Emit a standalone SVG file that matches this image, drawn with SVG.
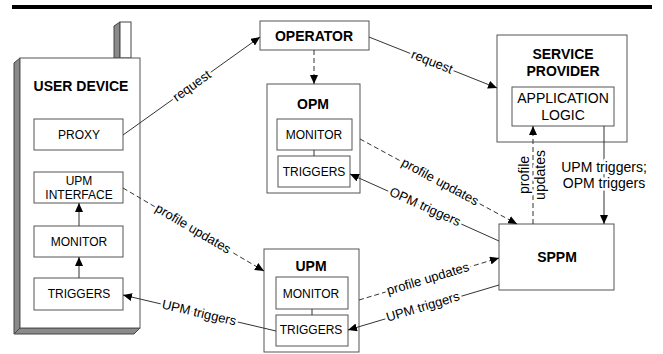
<svg xmlns="http://www.w3.org/2000/svg" width="663" height="354" viewBox="0 0 663 354">
<style>
.box{fill:#fff;stroke:#555;stroke-width:1}
.t{font-family:"Liberation Sans",Arial,sans-serif;fill:#000;text-anchor:middle}
.b{font-weight:bold;font-size:14px}
.s{font-size:12px}
.m{font-size:14px}
.ln{stroke:#333;stroke-width:1;fill:none}
.dash{stroke-dasharray:5,3}
.lbl{font-size:13px;paint-order:stroke;stroke:#fff;stroke-width:5;stroke-linejoin:round}
.lbl14{font-size:14px;paint-order:stroke;stroke:#fff;stroke-width:5;stroke-linejoin:round}
.shade{fill:#8a8a8a;stroke:#444;stroke-width:1}
</style>
<defs>
<marker id="ah" markerWidth="9" markerHeight="8" refX="9" refY="4" orient="auto" markerUnits="userSpaceOnUse"><path d="M0,0 L9,4 L0,8 z" fill="#000"/></marker>
</defs>
<rect x="12" y="5" width="640" height="4" fill="#000"/>

<g id="user-device">
<polygon class="shade" points="114,26 120,22 120,58 114,58"/>
<rect x="120" y="22" width="11" height="36" fill="#fff" stroke="#444"/>
<polygon class="shade" points="14,63 20,58 20,328 14,334"/>
<polygon class="shade" points="14,334 20,328 140,328 134,334"/>
<rect x="20" y="58" width="120" height="270" fill="#fff" stroke="#555"/>
<text class="t b" x="81" y="91">USER DEVICE</text>
</g>
<g id="proxy"><rect class="box" x="34" y="119" width="89" height="31"/><text class="t s" x="79" y="139">PROXY</text></g>
<g id="upm-interface"><rect class="box" x="34" y="172" width="89" height="31"/><text class="t s" x="79" y="185">UPM</text><text class="t s" x="79" y="199">INTERFACE</text></g>
<g id="ud-monitor"><rect class="box" x="34" y="226" width="89" height="31"/><text class="t s" x="79" y="245.5">MONITOR</text></g>
<g id="ud-triggers"><rect class="box" x="34" y="278" width="89" height="32"/><text class="t s" x="79" y="298">TRIGGERS</text></g>

<g id="operator"><rect class="box" x="260" y="21" width="109" height="29"/><text class="t b" x="314" y="41">OPERATOR</text></g>

<g id="opm"><rect class="box" x="267" y="84" width="93" height="109"/><text class="t b" x="313" y="109">OPM</text>
<rect class="box" x="277" y="119" width="75" height="31"/><text class="t s" x="314" y="139">MONITOR</text>
<rect class="box" x="278" y="156" width="72" height="31"/><text class="t s" x="314" y="175.5">TRIGGERS</text>
<line class="ln" x1="314" y1="150" x2="314" y2="156"/></g>

<g id="service-provider"><rect class="box" x="497" y="35" width="130" height="107"/><text class="t b" x="563" y="59">SERVICE</text><text class="t b" x="563" y="76">PROVIDER</text>
<rect class="box" x="512" y="87" width="102" height="39"/><text class="t m" x="563" y="103">APPLICATION</text><text class="t m" x="563" y="120">LOGIC</text></g>

<g id="sppm"><rect class="box" x="499" y="224" width="115" height="66"/><text class="t b" x="557" y="261.5">SPPM</text></g>

<g id="upm"><rect class="box" x="264" y="249" width="95" height="103"/><text class="t b" x="311" y="270.5">UPM</text>
<rect class="box" x="276" y="277" width="72" height="32"/><text class="t s" x="311" y="297.5">MONITOR</text>
<rect class="box" x="276" y="315" width="72" height="31"/><text class="t s" x="311" y="334">TRIGGERS</text>
<line class="ln" x1="312" y1="309" x2="312" y2="315"/></g>

<g id="connectors">
<line class="ln" x1="79" y1="278" x2="79" y2="257" marker-end="url(#ah)"/>
<line class="ln" x1="79" y1="226" x2="79" y2="203" marker-end="url(#ah)"/>
<line class="ln" x1="123" y1="135" x2="260" y2="37" marker-end="url(#ah)"/>
<text class="t lbl" transform="translate(192,86) rotate(-35.6)" y="4">request</text>
<line class="ln" x1="369" y1="37" x2="497" y2="88" marker-end="url(#ah)"/>
<text class="t lbl" transform="translate(432,62) rotate(21.7)" y="4">request</text>
<line class="ln dash" x1="314" y1="50" x2="314" y2="84" marker-end="url(#ah)"/>
<line class="ln dash" x1="123" y1="188" x2="264" y2="271" marker-end="url(#ah)"/>
<text class="t lbl" transform="translate(193,229) rotate(30.5)" y="4">profile updates</text>
<line class="ln" x1="276" y1="331" x2="123" y2="295" marker-end="url(#ah)"/>
<text class="t lbl" transform="translate(199,313) rotate(13.2)" y="4">UPM triggers</text>
<line class="ln dash" x1="359" y1="300" x2="499" y2="258" marker-end="url(#ah)"/>
<text class="t lbl" transform="translate(428,279) rotate(-16.7)" y="4">profile updates</text>
<line class="ln" x1="499" y1="285" x2="348" y2="330" marker-end="url(#ah)"/>
<text class="t lbl" transform="translate(423,307) rotate(-16.6)" y="4">UPM triggers</text>
<line class="ln dash" x1="360" y1="139" x2="517" y2="224" marker-end="url(#ah)"/>
<text class="t lbl" transform="translate(440,182) rotate(28.4)" y="4">profile updates</text>
<line class="ln" x1="499" y1="241" x2="350" y2="174" marker-end="url(#ah)"/>
<text class="t lbl" transform="translate(425,207) rotate(24.2)" y="4">OPM triggers</text>
<line class="ln dash" x1="533" y1="224" x2="533" y2="126" marker-end="url(#ah)"/>
<text class="t lbl14" transform="translate(533,175) rotate(-90)"><tspan x="0" y="-4">profile</tspan><tspan x="0" y="12">updates</tspan></text>
<line class="ln" x1="604" y1="126" x2="604" y2="224" marker-end="url(#ah)"/>
<text class="t lbl14"><tspan x="604" y="172">UPM triggers;</tspan><tspan x="604" y="188">OPM triggers</tspan></text>
</g>
</svg>
